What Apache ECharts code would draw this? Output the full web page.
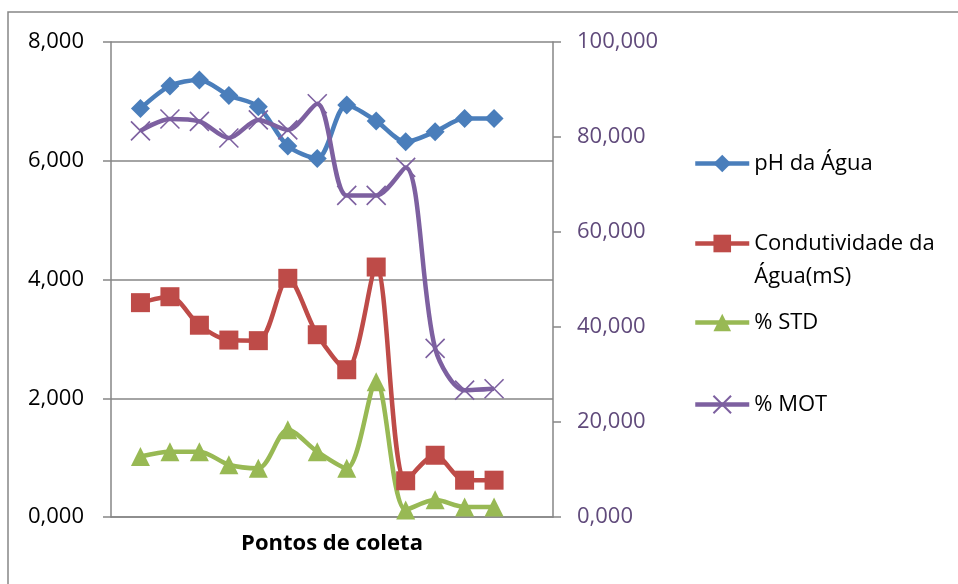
<!DOCTYPE html>
<html>
<head>
    <meta charset="utf-8"/>
    <title>Pontos de coleta</title>
    <script src="https://cdn.jsdelivr.net/npm/echarts@6/dist/echarts.min.js"></script>
    <style>
        html, body { margin: 0; padding: 0; background: #fff; }
    </style>
</head>
<body>
<div id="main" style="width: 958px; height: 584px"></div>
<script type="text/javascript">
    // pontos de coleta (posições vazias nas pontas, como na planilha)
    var pontos = ['', '1', '2', '3', '4', '5', '6', '7', '8', '9', '10', '11', '12', '13', '', ''];

    var phAgua = ['-', 6.88, 7.26, 7.36, 7.10, 6.91, 6.25, 6.04, 6.94, 6.67, 6.32, 6.49, 6.71, 6.71, '-', '-'];
    var condutividade = ['-', 3.61, 3.71, 3.23, 2.98, 2.97, 4.02, 3.07, 2.48, 4.21, 0.61, 1.04, 0.62, 0.62, '-', '-'];
    var std = ['-', 1.02, 1.10, 1.10, 0.88, 0.82, 1.47, 1.10, 0.82, 2.28, 0.12, 0.29, 0.17, 0.17, '-', '-'];
    var mot = ['-', 81.3, 83.8, 83.3, 79.8, 83.6, 81.5, 87.0, 67.7, 67.7, 73.6, 35.5, 26.7, 27.0, '-', '-'];

    var nomes = ['pH da Água', 'Condutividade da Água(mS)', '% STD', '% MOT'];
    var cores = ['#4a7ebb', '#be4b48', '#98b954', '#7d60a0'];

    var fonte = '"Open Sans", "Noto Sans", sans-serif';
    var cinza = '#868686';

    function fmt(v) {
        return v.toFixed(3).replace('.', ',');
    }

    var myChart = echarts.init(document.getElementById('main'));

    var xis = 'path://M0,0 L10,10 M10,0 L0,10';

    function serie(i, dados, simbolo, tam, eixo) {
        return {
            name: nomes[i],
            type: 'line',
            yAxisIndex: eixo,
            data: dados,
            smooth: 0.3,
            symbol: simbolo,
            symbolSize: tam,
            showSymbol: true,
            showAllSymbol: true,
            lineStyle: {color: cores[i], width: 4.5},
            itemStyle: {
                color: simbolo === xis ? 'none' : cores[i],
                borderColor: cores[i],
                borderWidth: simbolo === xis ? 1.6 : 0
            }
        };
    }

    // legenda: um componente por item para posicionar como no original
    function legenda(i, top) {
        return {
            data: [nomes[i]],
            orient: 'vertical',
            left: 693,
            top: top,
            padding: 0,
            itemWidth: 54,
            itemHeight: 22,
            itemGap: 5,
            selectedMode: false,
            lineStyle: {width: 4.5},
            formatter: function (name) {
                // linha vazia acima para o ícone ficar na altura da 1ª linha
                return name === 'Condutividade da Água(mS)' ? '\nCondutividade da\nÁgua(mS)' : name;
            },
            textStyle: {fontFamily: fonte, fontSize: 22, color: '#000', lineHeight: 33}
        };
    }

    var option = {
        animation: false,
        backgroundColor: '#fff',
        graphic: [{
            type: 'rect',
            shape: {x: 8, y: 12, width: 2000, height: 2000},
            style: {fill: 'none', stroke: cinza, lineWidth: 1.5},
            silent: true
        }],
        grid: {left: 111, right: 405, top: 42, bottom: 67},
        legend: [
            legenda(0, 147),
            legenda(1, 194),
            legenda(2, 306),
            legenda(3, 388)
        ],
        xAxis: {
            type: 'category',
            data: pontos,
            boundaryGap: false,
            axisLine: {lineStyle: {color: cinza, width: 1.5}},
            axisTick: {show: false},
            axisLabel: {show: false},
            name: 'Pontos de coleta',
            nameLocation: 'middle',
            nameGap: 16,
            nameTextStyle: {fontFamily: fonte, fontSize: 22, fontWeight: 'bold', color: '#000'}
        },
        yAxis: [{
            type: 'value',
            position: 'left',
            min: 0,
            max: 8,
            interval: 2,
            axisLine: {show: true, lineStyle: {color: cinza, width: 1.5}},
            axisTick: {show: true, length: 8, lineStyle: {color: cinza, width: 1.5}},
            splitLine: {show: true, lineStyle: {color: cinza, width: 1.5}},
            axisLabel: {
                margin: 27,
                formatter: fmt,
                fontFamily: fonte,
                fontSize: 22,
                color: '#000'
            }
        }, {
            type: 'value',
            position: 'right',
            min: 0,
            max: 100,
            interval: 20,
            axisLine: {show: true, lineStyle: {color: cinza, width: 1.5}},
            axisTick: {show: true, length: 8, lineStyle: {color: cinza, width: 1.5}},
            splitLine: {show: false},
            axisLabel: {
                margin: 24,
                formatter: fmt,
                fontFamily: fonte,
                fontSize: 22,
                color: '#604a7b'
            }
        }],
        series: [
            serie(0, phAgua, 'diamond', 19, 0),
            serie(1, condutividade, 'rect', 19, 0),
            serie(2, std, 'triangle', 19, 0),
            serie(3, mot, xis, 19, 1)
        ]
    };

    myChart.setOption(option);
</script>
</body>
</html>
